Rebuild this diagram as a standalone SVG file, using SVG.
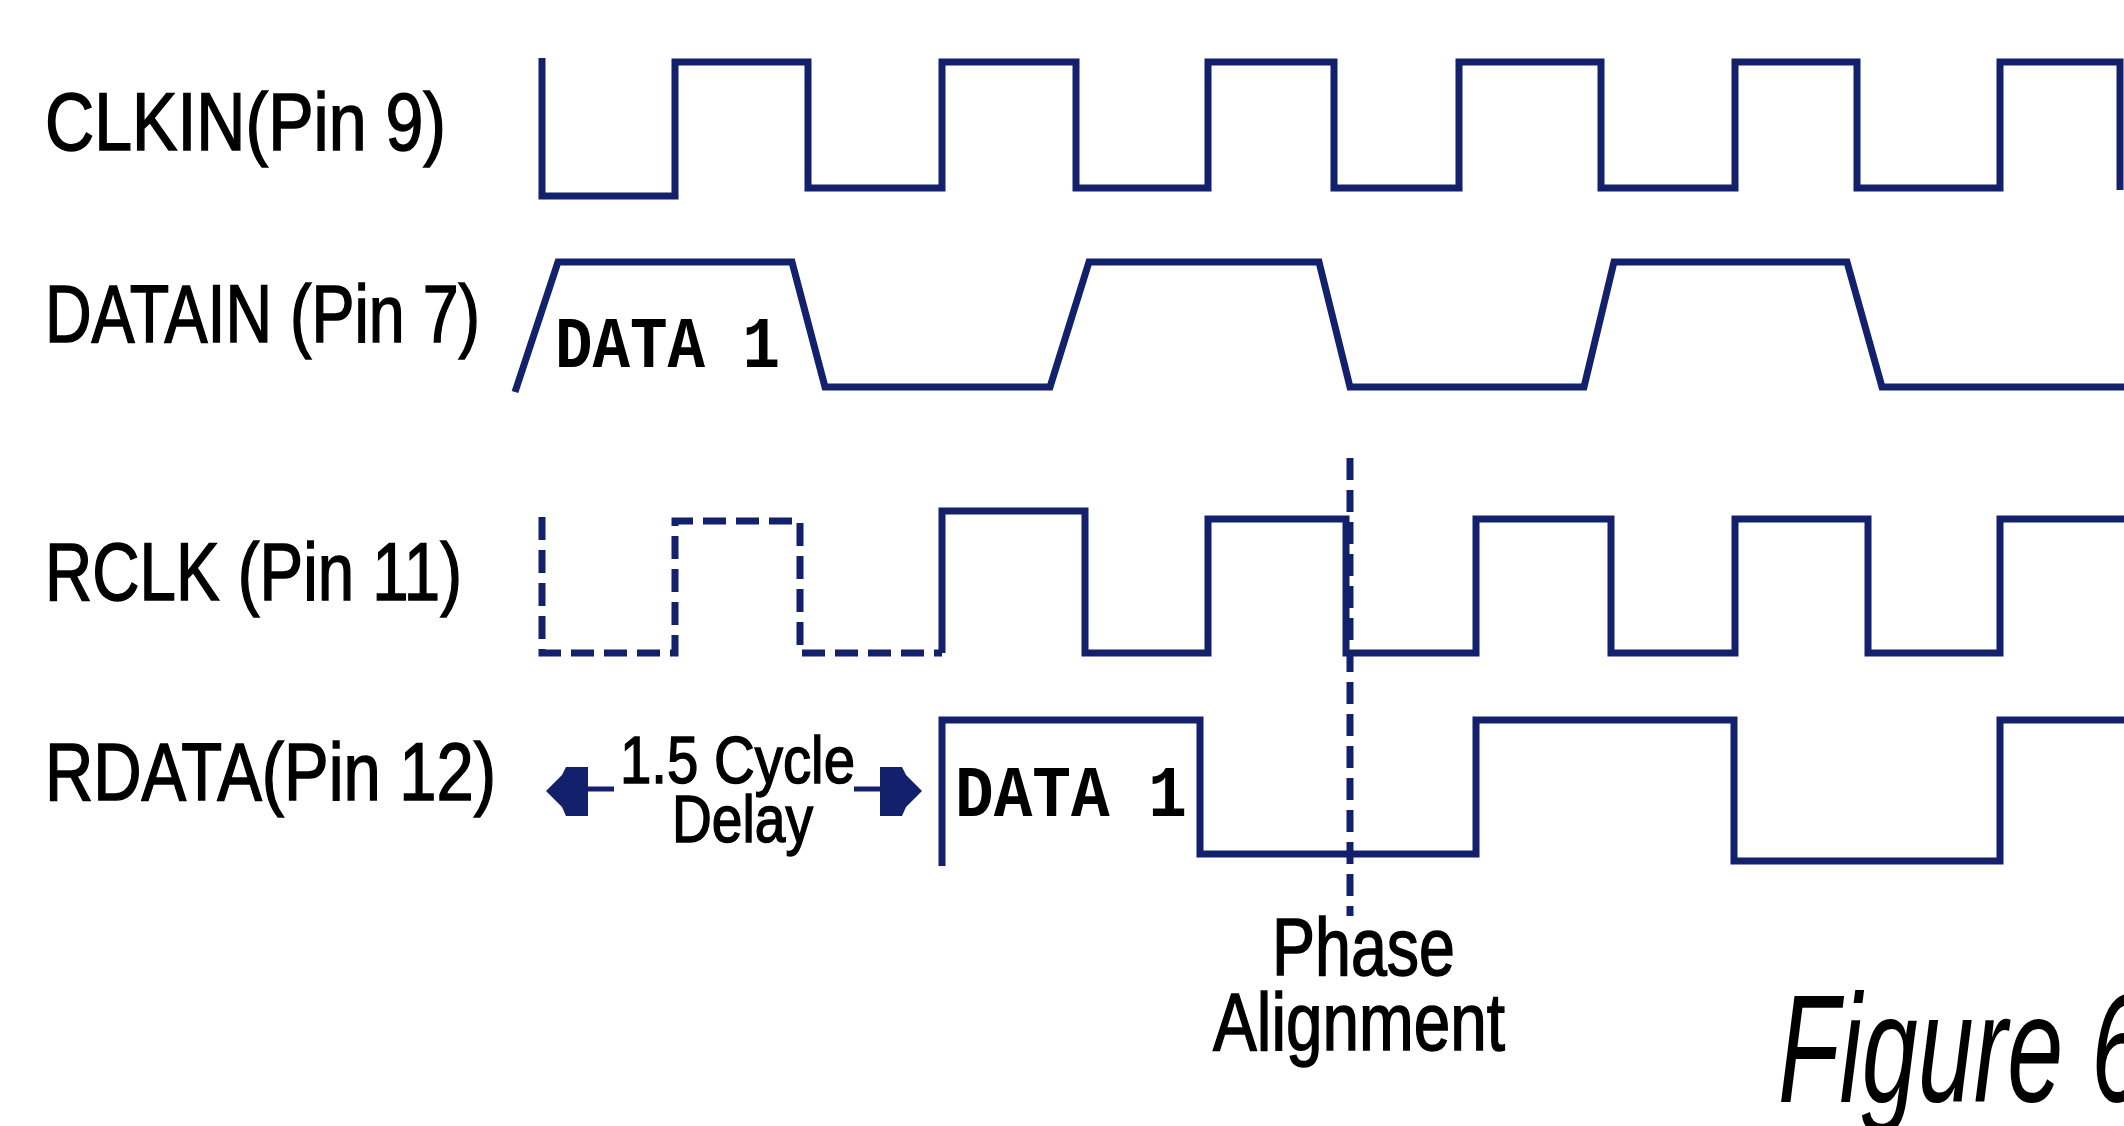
<svg xmlns="http://www.w3.org/2000/svg" width="2124" height="1126" viewBox="0 0 2124 1126">
<style>
.w{fill:none;stroke:#13206b;stroke-width:7;stroke-linejoin:miter;stroke-linecap:butt}
.d{stroke-dasharray:23 10}
.pd{stroke-dasharray:22 10}
.lbl{font-family:"Liberation Sans",Arial,sans-serif;font-size:81px;fill:#000;stroke:#000;stroke-width:1.5}
.sm{font-family:"Liberation Sans",Arial,sans-serif;font-size:67px;fill:#000;stroke:#000;stroke-width:1.5}
.dt{font-family:"Liberation Mono","Courier New",monospace;font-weight:bold;font-size:72px;fill:#000}
.fig{font-family:"Liberation Sans",Arial,sans-serif;font-style:italic;font-size:154px;fill:#000}
.ah{fill:#13206b}
</style>
<rect width="2124" height="1126" fill="#fff"/>
<g id="clkin">
<text class="lbl" x="45" y="150" textLength="401" lengthAdjust="spacingAndGlyphs">CLKIN(Pin 9)</text>
<path class="w" d="M542,58 V196 H675 V62 H808 V188 H942 V62 H1076 V188 H1208 V62 H1334 V188 H1459 V62 H1601 V188 H1735 V62 H1857 V188 H2000 V62 H2120 V190"/>
</g>
<g id="datain">
<text class="lbl" x="45" y="342" textLength="435" lengthAdjust="spacingAndGlyphs">DATAIN (Pin 7)</text>
<path class="w" d="M515,392 L558,262 H792 L825,387 H1050 L1089,262 H1319 L1350,387 H1584 L1614,262 H1847 L1882,387 H2124"/>
<text class="dt" x="555" y="367" textLength="225" lengthAdjust="spacingAndGlyphs">DATA 1</text>
</g>
<g id="rclk">
<text class="lbl" x="45" y="600" textLength="417" lengthAdjust="spacingAndGlyphs">RCLK (Pin 11)</text>
<path class="w d" d="M542,517 V653 H675 V521 H800 V653 H942"/>
<path class="w" d="M942,653 V511 H1085 V653 H1208 V519 H1346 V653 H1476 V519 H1611 V653 H1735 V519 H1868 V653 H2000 V519 H2124"/>
</g>
<g id="rdata">
<text class="lbl" x="45" y="800" textLength="451" lengthAdjust="spacingAndGlyphs">RDATA(Pin 12)</text>
<path class="w" d="M942,866 V720 H1200 V854 H1476 V720 H1734 V861 H2000 V720 H2124"/>
<text class="dt" x="955" y="816" textLength="232" lengthAdjust="spacingAndGlyphs">DATA 1</text>
</g>
<g id="delay">
<line x1="586" y1="789" x2="614" y2="789" stroke="#13206b" stroke-width="5"/>
<polygon class="ah" points="546,791 562,775 566,767 588,767 588,816 566,816 562,807"/>
<line x1="854" y1="789" x2="882" y2="789" stroke="#13206b" stroke-width="5"/>
<polygon class="ah" points="922,791 906,775 902,767 880,767 880,816 902,816 906,807"/>
<text class="sm" x="620" y="783" textLength="235" lengthAdjust="spacingAndGlyphs">1.5 Cycle</text>
<text class="sm" x="672" y="842" textLength="141" lengthAdjust="spacingAndGlyphs">Delay</text>
</g>
<g id="phase">
<line class="w pd" x1="1350" y1="458" x2="1350" y2="916"/>
<text class="lbl" x="1272" y="975" textLength="183" lengthAdjust="spacingAndGlyphs">Phase</text>
<text class="lbl" x="1213" y="1050" textLength="292" lengthAdjust="spacingAndGlyphs">Alignment</text>
</g>
<g id="caption">
<text class="fig" x="1778" y="1102" textLength="369" lengthAdjust="spacingAndGlyphs">Figure 6</text>
</g>
</svg>
